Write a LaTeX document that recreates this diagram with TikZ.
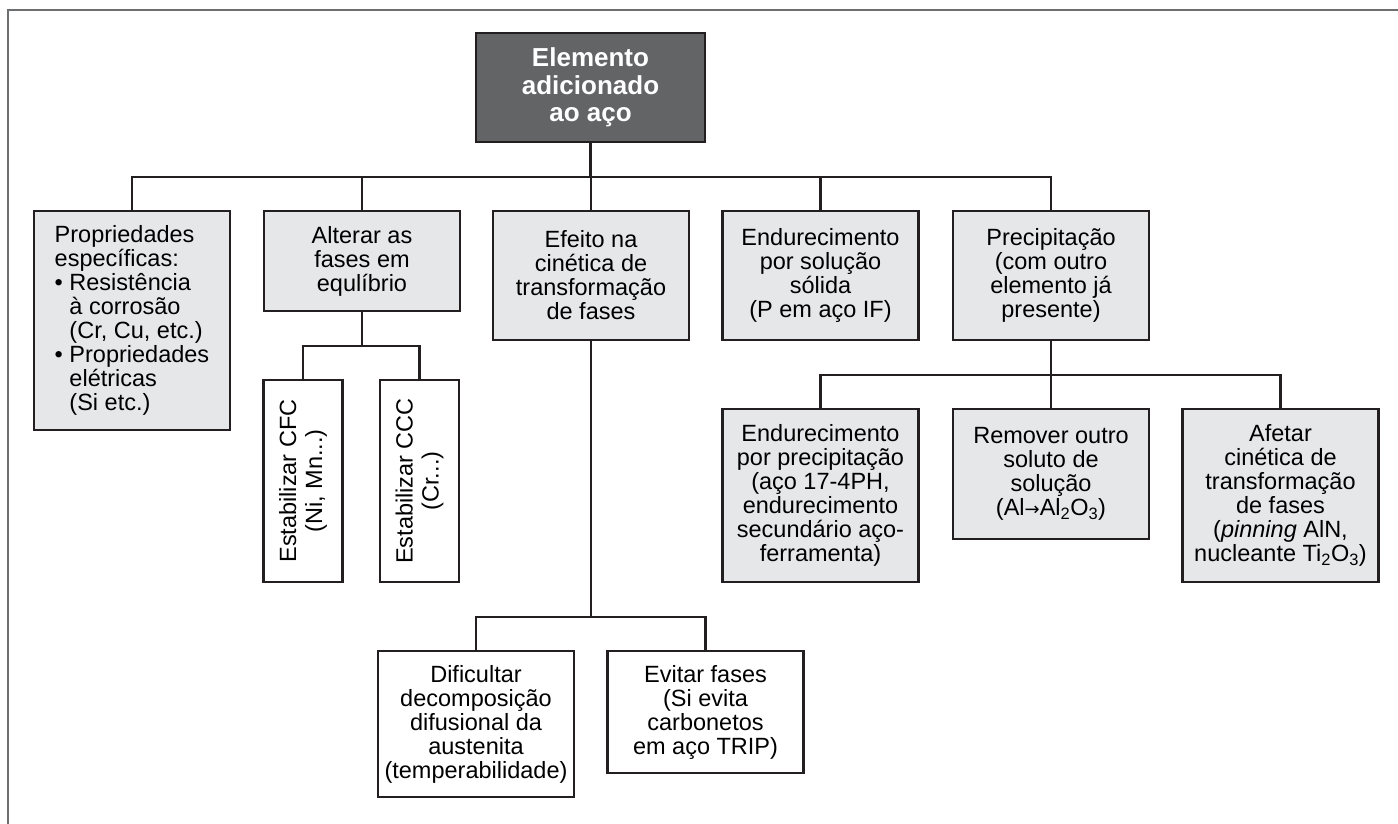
\documentclass[tikz,border=0pt]{standalone}
\usepackage{fontspec}
\setmainfont{Liberation Sans}
\newfontfamily\arrowfont{DejaVu Sans}
\usetikzlibrary{positioning}
\definecolor{lineCol}{HTML}{231F20}
\definecolor{rootCol}{HTML}{636466}
\definecolor{catCol}{HTML}{E6E7E8}
\definecolor{frameCol}{HTML}{6D6E70}
\tikzset{
  box/.style={draw=lineCol, line width=2.6pt, align=center, inner sep=2pt,
              font=\fontsize{23.5}{24}\selectfont},
  rootbox/.style={box, fill=rootCol, text=white, font=\fontsize{26}{27.5}\selectfont\bfseries,
                  minimum width=229pt, minimum height=109pt},
  catbox/.style={box, fill=catCol, minimum width=196pt},      % grey category box
  leafbox/.style={box, fill=white, minimum width=196pt},      % white result box
  vbox/.style={box, fill=white, rotate=90, minimum width=202pt, minimum height=79pt,
               font=\fontsize{23.5}{26}\selectfont},           % upright narrow box
  conn/.style={draw=lineCol, line width=2.1pt},
  frame/.style={draw=frameCol, line width=1.3pt},
}
\newcommand{\drop}[2]{\draw[conn] (#1.south) |- ([yshift=33pt]#2.north) -- (#2.north);}
\newcommand{\bul}{\textbullet\ }
\newcommand{\ind}{\hphantom{\textbullet\ }}
\newcommand{\toarr}{{\arrowfont\fontsize{18}{24}\selectfont →}}

\begin{document}
\begin{tikzpicture}[x=1pt,y=-1pt]
  \useasboundingbox (0,0) rectangle (1398,824);
  \draw[frame] (8,824) -- (8,10) -- (1398,10);
  \def\yA{275.5}\def\yB{495.5}
  % root
  \node[rootbox] (root) at (590.5,87.5) {Elemento\\adicionado\\ao aço};

  % first level
  \node[catbox, minimum height=219pt, align=left] (prop) at (132,320.5)
    {Propriedades\\específicas:\\\bul Resistência\\\ind à corrosão\\\ind (Cr, Cu, etc.)\\\bul Propriedades\\\ind elétricas\\\ind (Si etc.)};
  \node[catbox, minimum height=100pt] (fase) at (362,261) {Alterar as\\fases em\\equlíbrio};
  \node[catbox, minimum height=129pt] (cine) at (591,\yA) {Efeito na\\cinética de\\transformação\\de fases};
  \node[catbox, minimum height=129pt] (solu) at (820.5,\yA) {Endurecimento\\por solução\\sólida\\(P em aço IF)};
  \node[catbox, minimum height=129pt] (prec) at (1051,\yA) {Precipitação\\(com outro\\elemento já\\presente)};

  % under Alterar
  \node[vbox] (cfc) at (303,481) {Estabilizar CFC\\(Ni, Mn...)};
  \node[vbox] (ccc) at (419.5,481) {Estabilizar CCC\\(Cr...)};

  % under Efeito
  \node[leafbox, minimum height=146pt] (difu) at (476,724) {Dificultar\\decomposição\\difusional da\\austenita\\(temperabilidade)};
  \node[leafbox, minimum height=122pt] (evit) at (705.5,712) {Evitar fases\\(Si evita\\carbonetos\\em aço TRIP)};

  % under Precipitacao
  \node[catbox, minimum height=173pt] (endp) at (820.5,\yB) {Endurecimento\\por precipitação\\(aço 17-4PH,\\endurecimento\\secundário aço-\\ferramenta)};
  \node[catbox, minimum height=130pt] (remo) at (1051,474) {Remover outro\\soluto de\\solução\\(Al\toarr Al\textsubscript{2}O\textsubscript{3})};
  \node[catbox, minimum height=173pt] (afet) at (1280.5,\yB) {Afetar\\cinética de\\transformação\\de fases\\(\textit{pinning} AlN,\\nucleante Ti\textsubscript{2}O\textsubscript{3})};

  % connectors
  \foreach \c in {prop,fase,cine,solu,prec}{\drop{root}{\c}}
  \foreach \c in {endp,remo,afet}{\drop{prec}{\c}}
  \foreach \c in {difu,evit}{\drop{cine}{\c}}
  \foreach \c in {cfc,ccc}{\draw[conn] (fase.south) |- ([yshift=33pt]\c.east) -- (\c.east);}
\end{tikzpicture}
\end{document}
